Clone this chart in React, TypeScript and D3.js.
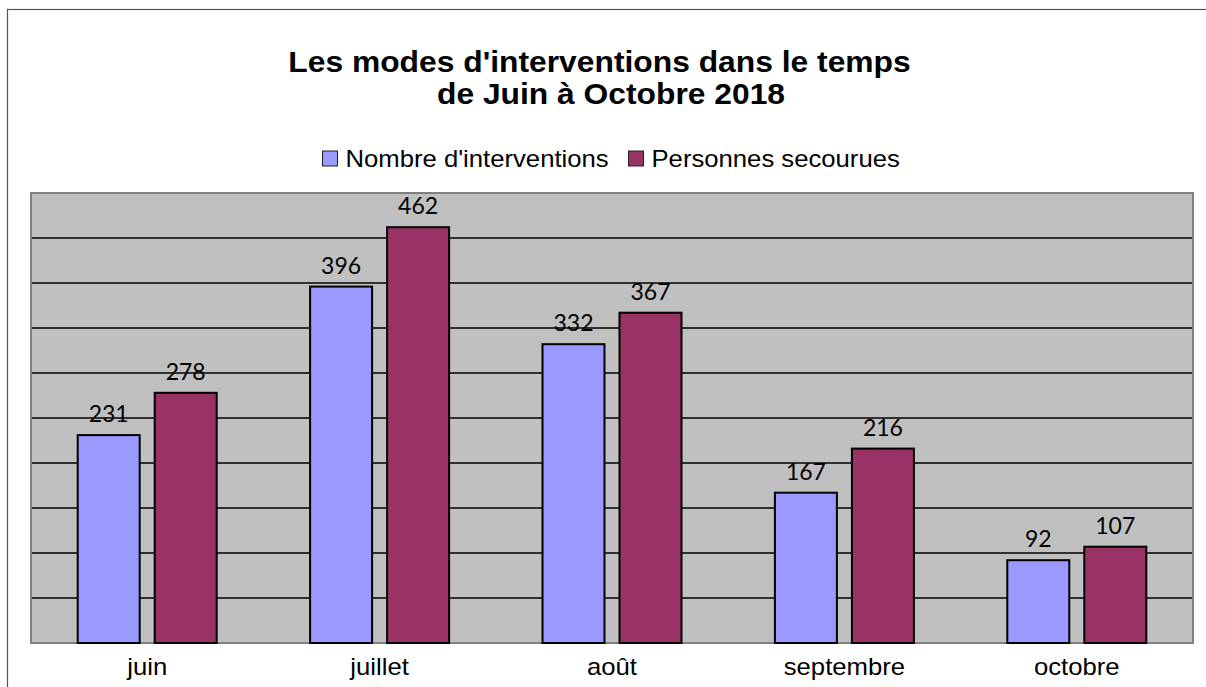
import React from 'react';
import { scaleBand, scaleLinear, range } from 'd3';

const months = ['juin', 'juillet', 'août', 'septembre', 'octobre'];
const interventions = [231, 396, 332, 167, 92];
const secourues = [278, 462, 367, 216, 107];
const seriesNames = ["Nombre d'interventions", 'Personnes secourues'];
const seriesColors = ['#9999ff', '#993366'];
const titleLines = ["Les modes d'interventions dans le temps", 'de Juin à Octobre 2018'];

const width = 1206;
const height = 687;
const plot = { left: 31, right: 1193, top: 193, bottom: 643 };
const arial = 'Arial, "Liberation Sans", sans-serif';

// text slightly stretched horizontally, like the original export
function Wide({ x, y, sx, anchor = 'start', children, ...rest }: any) {
  return (
    <g transform={`translate(${x},${y}) scale(${sx},1)`}>
      <text textAnchor={anchor} {...rest}>{children}</text>
    </g>
  );
}

export default function App() {
  const xScale = scaleBand().domain(months).range([plot.left, plot.right]);
  const groupWidth = 139;
  const inner = scaleBand()
    .domain(seriesNames)
    .range([-groupWidth / 2, groupWidth / 2])
    .paddingInner(0.195);
  const yScale = scaleLinear().domain([0, 500]).range([plot.bottom, plot.top]);
  const ticks = range(50, 500, 50);
  const series = [interventions, secourues];

  return (
    <svg width={width} height={height} style={{ position: 'absolute', left: 0, top: 0 }}>
      <rect x={0} y={0} width={width} height={height} fill="#fff" />
      <rect x={7.5} y={9.5} width={1240} height={720} fill="none" stroke="#555" strokeWidth={1.2} />

      {titleLines.map((t, i) => (
        <Wide key={t} x={i === 0 ? 599.5 : 611} y={72 + i * 32} sx={1.06} anchor="middle" fontFamily={arial}
          fontWeight="bold" fontSize={30} fill="#000">{t}</Wide>
      ))}

      {/* legend */}
      <g fontFamily={arial} fontSize={24}>
        <rect x={322.5} y={151} width={15} height={15} fill={seriesColors[0]} stroke="#222" strokeWidth={1} />
        <Wide x={345.5} y={166.5} sx={1.07}>{seriesNames[0]}</Wide>
        <rect x={628.5} y={151} width={15} height={15} fill={seriesColors[1]} stroke="#222" strokeWidth={1} />
        <Wide x={651.5} y={166.5} sx={1.07}>{seriesNames[1]}</Wide>
      </g>

      <rect x={plot.left} y={plot.top} width={plot.right - plot.left} height={plot.bottom - plot.top}
        fill="#c0c0c0" />
      {ticks.map(t => (
        <line key={t} x1={plot.left} x2={plot.right} y1={yScale(t)} y2={yScale(t)}
          stroke="#000" strokeWidth={1.3} />
      ))}
      <rect x={plot.left} y={plot.top} width={plot.right - plot.left} height={plot.bottom - plot.top}
        fill="none" stroke="#808080" strokeWidth={2} />

      {months.map((m, i) => {
        const cx = xScale(m)! + xScale.bandwidth() / 2;
        return (
          <g key={m}>
            {series.map((vals, s) => {
              const x = cx + inner(seriesNames[s])!;
              const y = yScale(vals[i]);
              return (
                <g key={s}>
                  <rect x={x} y={y} width={inner.bandwidth()} height={yScale(0) - y}
                    fill={seriesColors[s]} stroke="#000" strokeWidth={2} />
                  <text x={x + inner.bandwidth() / 2} y={y - 13} textAnchor="middle"
                    fontFamily='Lato, "Open Sans", sans-serif' fontSize={23} fill="#000">{vals[i]}</text>
                </g>
              );
            })}
            <Wide x={cx} y={674.5} sx={1.07} anchor="middle" fontFamily={arial} fontSize={24} fill="#000">{m}</Wide>
          </g>
        );
      })}
    </svg>
  );
}
